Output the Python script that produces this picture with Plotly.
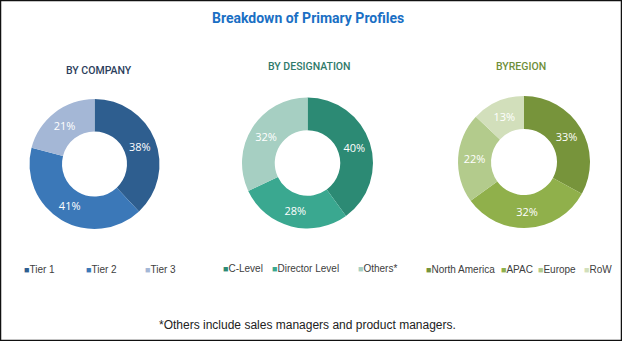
import plotly.graph_objects as go

W, H = 622, 341

title_text = "Breakdown of Primary Profiles"
footnote = "*Others include sales managers and product managers."

company_labels = ["Tier 1", "Tier 2", "Tier 3"]
company_values = [38, 41, 21]
company_colors = ["#2e5e8f", "#3b78b8", "#a4b7d6"]

designation_labels = ["C-Level", "Director Level", "Others*"]
designation_values = [40, 28, 32]
designation_colors = ["#2c8a74", "#3aa890", "#a6cfc2"]

region_labels = ["North America", "APAC", "Europe", "RoW"]
region_values = [33, 32, 22, 13]
region_colors = ["#77943b", "#90b04b", "#b3cb8c", "#d2dfbb"]

charts = [
    dict(name="BY COMPANY", labels=company_labels, values=company_values, colors=company_colors,
         title_color="#2c3e5c", cx=94.5, cy=164, r=65, tx=98.5, ty=70,
         leg_x=[22, 84, 143], leg_y=269),
    dict(name="BY DESIGNATION", labels=designation_labels, values=designation_values, colors=designation_colors,
         title_color="#2f7a6a", cx=307.5, cy=163, r=65.5, tx=309, ty=66,
         leg_x=[221, 270, 356], leg_y=268),
    dict(name="BYREGION", labels=region_labels, values=region_values, colors=region_colors,
         title_color="#6f8f3a", cx=524, cy=162, r=66, tx=521, ty=66,
         leg_x=[424, 499, 536, 582], leg_y=269),
]

fig = go.Figure()
annotations = []

cond = "Roboto, Liberation Sans, Arial, sans-serif"
regular = "Liberation Sans, Arial, sans-serif"

for c in charts:
    fig.add_trace(go.Pie(
        labels=c["labels"], values=c["values"],
        marker=dict(colors=c["colors"], line=dict(width=0)),
        hole=0.5, sort=False, direction="clockwise", rotation=0,
        texttemplate="%{value}%", textposition="inside",
        insidetextorientation="horizontal",
        textfont=dict(color="white", size=11, family="Open Sans, Liberation Sans, sans-serif"),
        showlegend=False,
        domain=dict(x=[(c["cx"] - c["r"]) / W, (c["cx"] + c["r"]) / W],
                    y=[(H - c["cy"] - c["r"]) / H, (H - c["cy"] + c["r"]) / H]),
    ))
    annotations.append(dict(
        text=c["name"], x=c["tx"] / W, y=1 - c["ty"] / H, xref="paper", yref="paper",
        xanchor="center", yanchor="middle", showarrow=False,
        font=dict(family=cond, size=10.5, color=c["title_color"], weight=500),
    ))
    for lab, col, lx in zip(c["labels"], c["colors"], c["leg_x"]):
        annotations.append(dict(
            text=f"<span style='color:{col};font-size:9px'>■</span>{lab}",
            x=lx / W, y=1 - c["leg_y"] / H, xref="paper", yref="paper",
            xanchor="left", yanchor="middle", showarrow=False,
            font=dict(family=regular, size=10, color="#404040"),
        ))

annotations.append(dict(
    text=f"<b>{title_text}</b>", x=308 / W, y=1 - 18 / H, xref="paper", yref="paper",
    xanchor="center", yanchor="middle", showarrow=False,
    font=dict(family=cond, size=14, color="#1a6fc4"),
))
annotations.append(dict(
    text=footnote, x=307.5 / W, y=1 - 325 / H, xref="paper", yref="paper",
    xanchor="center", yanchor="middle", showarrow=False,
    font=dict(family=regular, size=12, color="#222222"),
))

fig.update_layout(
    width=W, height=H,
    margin=dict(l=0, r=0, t=0, b=0),
    paper_bgcolor="white", plot_bgcolor="white",
    annotations=annotations,
    shapes=[dict(type="rect", xref="paper", yref="paper", x0=0, y0=0, x1=1, y1=1,
                 line=dict(color="#111111", width=2.5), fillcolor="rgba(0,0,0,0)")],
)

fig.write_html("out.html")
